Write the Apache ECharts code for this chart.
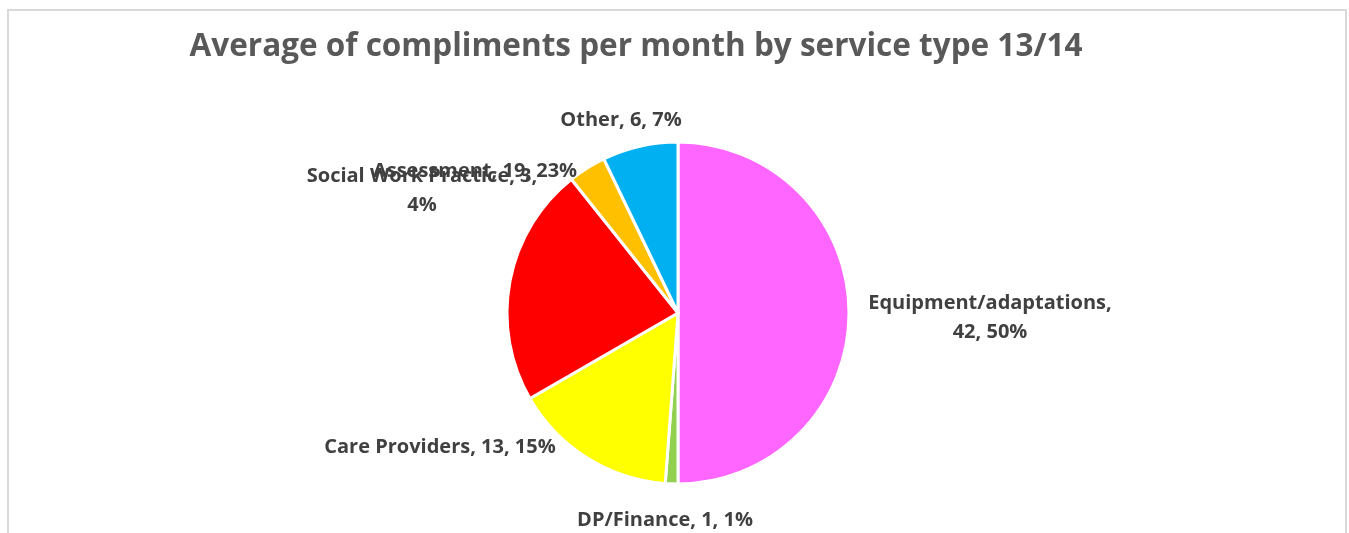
<!DOCTYPE html>
<html>
<head>
<meta charset="utf-8">
<script src="https://cdn.jsdelivr.net/npm/echarts@6/dist/echarts.min.js"></script>
<style>
html,body{margin:0;padding:0;background:#fff;}
#chart{width:1349px;height:533px;}
</style>
</head>
<body>
<div id="chart"></div>
<script>
var titleText = 'Average of compliments per month by service type 13/14';
var categories = ['Equipment/adaptations', 'DP/Finance', 'Care Providers', 'Assessment', 'Social Work Practice', 'Other'];
var values = [42, 1, 13, 19, 3, 6];
var colors = ['#FF66FF', '#92D050', '#FFFF00', '#FF0000', '#FFC000', '#00B0F0'];
// where the label text breaks onto a second line: 'name' = after the name, 'value' = after the value, '' = none
var labelBreaks = ['name', '', '', '', 'value', ''];
// label anchor positions (centre of each label block), in px
var labelPos = [[990, 318], [665, 520], [440, 447], [475, 171], [422, 191], [621, 120]];

var chart = echarts.init(document.getElementById('chart'), null, {renderer: 'canvas'});

var data = categories.map(function (c, i) {
  return {name: c, value: values[i], itemStyle: {color: colors[i]}};
});

var option = {
  backgroundColor: '#ffffff',
  animation: false,
  title: {
    text: titleText,
    left: 631,
    top: 26,
    textAlign: 'center',
    textStyle: {
      fontFamily: 'Open Sans',
      fontWeight: 'bold',
      fontSize: 31.5,
      color: '#595959'
    }
  },
  graphic: [{
    type: 'rect',
    shape: {x: 8, y: 10, width: 1338, height: 600},
    style: {fill: 'none', stroke: '#d9d9d9', lineWidth: 2},
    silent: true,
    z: -1
  }],
  series: [{
    type: 'pie',
    center: [678, 313],
    radius: [0, 171],
    startAngle: 90,
    clockwise: true,
    percentPrecision: 0,
    avoidLabelOverlap: false,
    data: data,
    itemStyle: {borderColor: '#ffffff', borderWidth: 3},
    label: {
      show: true,
      position: 'outside',
      fontFamily: 'Open Sans',
      fontWeight: 'bold',
      fontSize: 20,
      lineHeight: 29,
      color: '#404040',
      align: 'center',
      formatter: function (p) {
        var b = labelBreaks[p.dataIndex];
        if (b === 'name') return p.name + ',\n' + p.value + ', ' + p.percent + '%';
        if (b === 'value') return p.name + ', ' + p.value + ',\n' + p.percent + '%';
        return p.name + ', ' + p.value + ', ' + p.percent + '%';
      }
    },
    labelLine: {show: false},
    labelLayout: function (params) {
      var pos = labelPos[params.dataIndex];
      return {x: pos[0], y: pos[1], align: 'center', verticalAlign: 'middle'};
    },
    emphasis: {disabled: true}
  }]
};
chart.setOption(option);
</script>
</body>
</html>
